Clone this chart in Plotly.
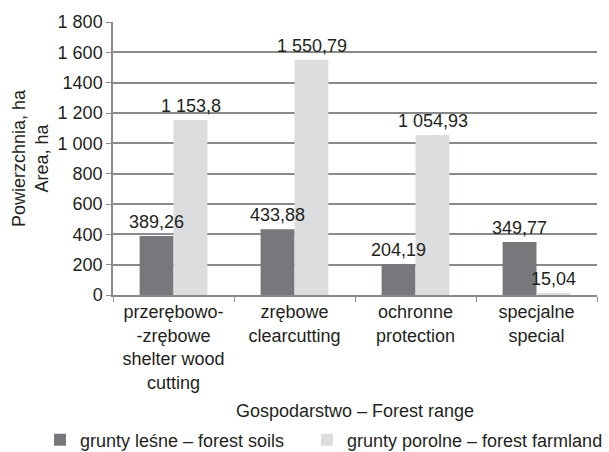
import plotly.graph_objects as go

categories = ["przerębowo-<br>-zrębowe<br>shelter wood<br>cutting",
              "zrębowe<br>clearcutting",
              "ochronne<br>protection",
              "specjalne<br>special"]
forest_soils = [389.26, 433.88, 204.19, 349.77]
forest_farmland = [1153.8, 1550.79, 1054.93, 15.04]
forest_soils_labels = ["389,26", "433,88", "204,19", "349,77"]
forest_farmland_labels = ["1 153,8", "1 550,79", "1 054,93", "15,04"]
tick_vals = [0, 200, 400, 600, 800, 1000, 1200, 1400, 1600, 1800]
tick_text = ["0", "200", "400", "600", "800", "1 000", "1 200", "1400", "1 600", "1 800"]

FONT = "Liberation Sans, Arial, sans-serif"
TXT = "#231f20"
FS = 18
fig = go.Figure()
fig.add_trace(go.Bar(
    x=categories, y=forest_soils, name="grunty leśne – forest soils",
    marker=dict(color="#77787b", line=dict(width=0)), legend="legend",
))
fig.add_trace(go.Bar(
    x=categories, y=forest_farmland, name="grunty porolne – forest farmland",
    marker=dict(color="#dcdddf", line=dict(width=0)), legend="legend2",
))

# value labels on top of bars (drawn above all bars)
half_bar = 17
for cat, v, lab in zip(categories, forest_soils, forest_soils_labels):
    fig.add_annotation(x=cat, y=v, text=lab, showarrow=False, xshift=-half_bar,
                       yanchor="bottom", yshift=2, font=dict(size=FS, color=TXT))
for cat, v, lab in zip(categories, forest_farmland, forest_farmland_labels):
    fig.add_annotation(x=cat, y=v, text=lab, showarrow=False, xshift=half_bar,
                       yanchor="bottom", yshift=2, font=dict(size=FS, color=TXT))

leg_common = dict(orientation="h", xref="container", yref="container",
                  y=1 - 440 / 452, xanchor="left", yanchor="middle",
                  font=dict(size=18), itemwidth=30, bgcolor="rgba(0,0,0,0)")
fig.update_layout(
    width=609, height=452,
    margin=dict(l=113, r=12, t=22, b=157, autoexpand=False),
    paper_bgcolor="white", plot_bgcolor="white",
    font=dict(family=FONT, size=FS, color=TXT),
    barmode="group", bargap=0.44, bargroupgap=0,
    showlegend=True,
    legend=dict(x=40 / 609, **leg_common),
    legend2=dict(x=307 / 609, **leg_common),
    xaxis=dict(
        showline=True, linecolor="#8a8a8a", linewidth=1.5,
        ticks="outside", tickson="boundaries", ticklen=5, tickcolor="#8a8a8a",
        tickfont=dict(size=FS),
        title=dict(text="Gospodarstwo – Forest range", font=dict(size=FS), standoff=22),
    ),
    yaxis=dict(
        range=[0, 1800], tickvals=tick_vals, ticktext=tick_text,
        showgrid=True, gridcolor="#8a8a8a", gridwidth=1.5,
        showline=True, linecolor="#8a8a8a", linewidth=1.5,
        ticks="outside", ticklen=5, tickcolor="#8a8a8a",
        tickfont=dict(size=FS), zeroline=False,
        title=dict(text="Powierzchnia, ha<br>Area, ha", font=dict(size=FS), standoff=4),
    ),
)
fig.write_html("out.html", config={"displayModeBar": False},
               post_script="document.body.style.margin='0';")
